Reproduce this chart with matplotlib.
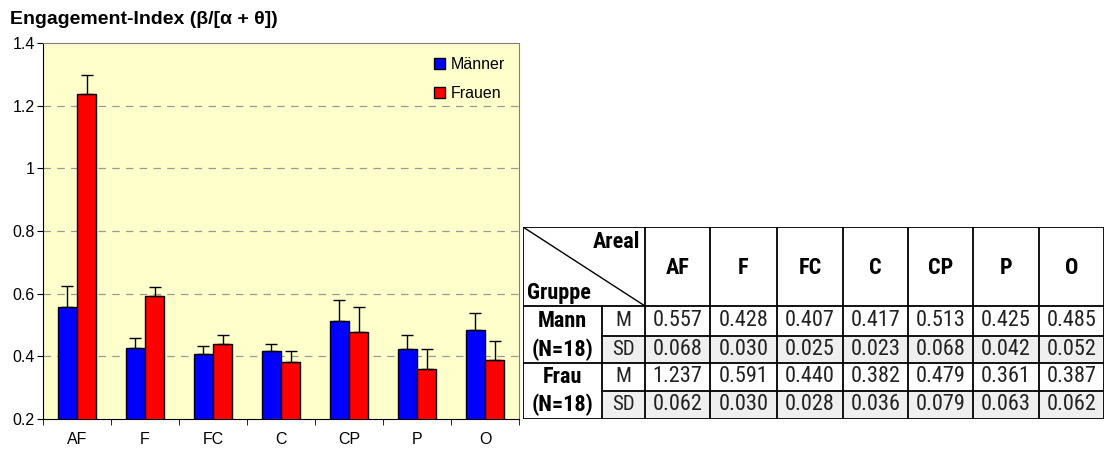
import matplotlib
matplotlib.use('Agg')
from matplotlib import pyplot as plt
from matplotlib.patches import Rectangle
from matplotlib.ticker import FormatStrFormatter
import numpy as np

plt.rcParams['font.family'] = ['Liberation Sans', 'DejaVu Sans']

# data
areas = ['AF', 'F', 'FC', 'C', 'CP', 'P', 'O']
men_mean = [0.557, 0.428, 0.407, 0.417, 0.513, 0.425, 0.485]
men_sd = [0.068, 0.030, 0.025, 0.023, 0.068, 0.042, 0.052]
women_mean = [1.237, 0.591, 0.440, 0.382, 0.479, 0.361, 0.387]
women_sd = [0.062, 0.030, 0.028, 0.036, 0.079, 0.063, 0.062]
group_labels = [('Mann', '(N=18)'), ('Frau', '(N=18)')]
series_names = ['Männer', 'Frauen']

W, H = 1105, 450
dpi = 100
fig = plt.figure(figsize=(W / dpi, H / dpi), dpi=dpi)

# ---- bar chart ----
ax = fig.add_axes([43 / W, 1 - 419 / H, 476 / W, 376 / H])
ax.set_facecolor('#FFFFCC')
x = np.arange(len(areas))
bw = 0.28
ekw = dict(ecolor='black', elinewidth=1.0, capsize=4.3, capthick=1.0)
ax.bar(x - bw / 2, men_mean, bw, yerr=[np.zeros(7), men_sd], color='#0000FF',
       edgecolor='black', linewidth=1.0, label=series_names[0], zorder=3, error_kw=ekw)
ax.bar(x + bw / 2, women_mean, bw, yerr=[np.zeros(7), women_sd], color='#FF0000',
       edgecolor='black', linewidth=1.0, label=series_names[1], zorder=3, error_kw=ekw)
ax.set_xlim(-0.5, 6.5)
ax.set_ylim(0.2, 1.4)
ax.set_yticks(np.arange(0.2, 1.41, 0.2))
ax.yaxis.set_major_formatter(FormatStrFormatter('%g'))
for yv in np.arange(0.4, 1.3, 0.2):
    ax.axhline(yv, color='#999999', linestyle=(0, (6, 5)), linewidth=0.9, zorder=1)
ax.set_xticks(x)
ax.set_xticklabels(areas)
ax.set_xticks(np.arange(-0.5, 7, 1), minor=True)
ax.tick_params(axis='x', which='major', length=0, labelsize=11.5, pad=9)
ax.tick_params(axis='x', which='minor', length=4, direction='out')
ax.tick_params(axis='y', length=4, direction='out', labelsize=11.5, pad=2)
for s in ['top', 'right']:
    ax.spines[s].set_color('#808080')
for s in ['left', 'bottom']:
    ax.spines[s].set_color('black')
ax.legend(loc='upper right', frameon=False, fontsize=11.5, handlelength=0.65,
          handleheight=0.65, handletextpad=0.35, labelspacing=0.85,
          borderaxespad=0.5)
fig.text(10 / W, 1 - 20 / H, 'Engagement-Index (β/[α + θ])', fontsize=14,
         fontweight='bold', va='center', ha='left')

# ---- table ----
tab = fig.add_axes([523 / W, 1 - 419 / H, 581 / W, 192 / H])
tab.set_xlim(523, 1104)
tab.set_ylim(419, 227)
tab.axis('off')
col_edges = [645, 710, 777, 843, 908, 973, 1039, 1104]
row_edges = [306, 336, 363, 391, 419]
narrow = ['Roboto Condensed', 'DejaVu Sans']

# shading of SD rows
for r in (1, 3):
    tab.add_patch(Rectangle((602, row_edges[r]), 1104 - 602,
                            row_edges[r + 1] - row_edges[r],
                            facecolor='#EFEFEF', edgecolor='none', zorder=1))

lw = 1.3
tab.plot([523, 1104, 1104, 523, 523], [227, 227, 419, 419, 227], color='black', lw=lw, zorder=3)
for cx in col_edges[:-1]:
    tab.plot([cx, cx], [227, 419], color='black', lw=lw, zorder=3)
tab.plot([602, 602], [306, 419], color='black', lw=lw, zorder=3)
tab.plot([523, 1104], [306, 306], color='black', lw=lw, zorder=3)
tab.plot([523, 1104], [363, 363], color='black', lw=lw, zorder=3)
tab.plot([602, 1104], [336, 336], color='black', lw=lw, zorder=3)
tab.plot([602, 1104], [391, 391], color='black', lw=lw, zorder=3)
tab.plot([523, 645], [227, 306], color='black', lw=1.0, zorder=3)

tab.text(640, 242, 'Areal', family=narrow, fontweight='bold', fontsize=16,
         ha='right', va='center')
tab.text(527, 293, 'Gruppe', family=narrow, fontweight='bold', fontsize=16,
         ha='left', va='center')
for i, name in enumerate(areas):
    cx = (col_edges[i] + col_edges[i + 1]) / 2
    tab.text(cx, 268, name, family=narrow, fontweight='bold', fontsize=16,
             ha='center', va='center')

rows = [men_mean, men_sd, women_mean, women_sd]
for r, vals in enumerate(rows):
    cy = (row_edges[r] + row_edges[r + 1]) / 2
    tab.text(623.5, cy, 'M' if r % 2 == 0 else 'SD', family=narrow, fontsize=15,
             ha='center', va='center', color='#222222')
    for i, v in enumerate(vals):
        cx = (col_edges[i] + col_edges[i + 1]) / 2
        tab.text(cx, cy, f'{v:.3f}', family=narrow, fontsize=16,
                 ha='center', va='center', color='#222222')

for g, (name, n) in enumerate(group_labels):
    top = row_edges[2 * g]
    mid = row_edges[2 * g + 1]
    bot = row_edges[2 * g + 2]
    tab.text(562.5, (top + mid) / 2, name, family=narrow, fontweight='bold',
             fontsize=16, ha='center', va='center')
    tab.text(562.5, (mid + bot) / 2, n, family=narrow, fontweight='bold',
             fontsize=16, ha='center', va='center')

fig.savefig('out.png', dpi=dpi)
